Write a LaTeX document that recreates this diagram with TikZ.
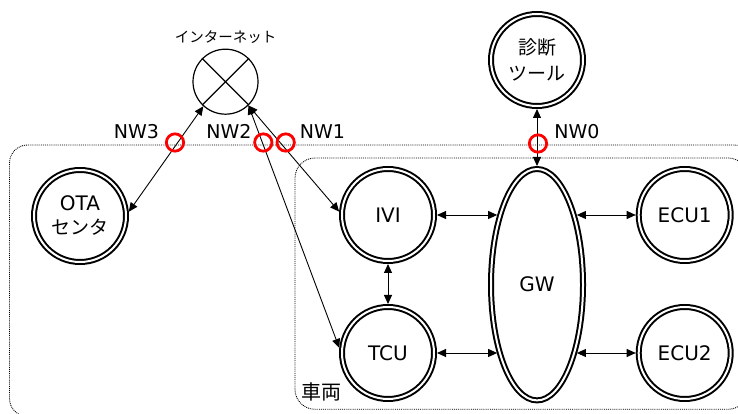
\documentclass[tikz,border=0pt]{standalone}
\usepackage{fontspec}
\setmainfont{DejaVu Sans}
\newfontfamily\jp{Noto Sans CJK JP}
\usetikzlibrary{shapes.geometric}
\usetikzlibrary{arrows.meta}
\usetikzlibrary{positioning}

\tikzset{
  unit/.style={circle, draw, double, line width=2pt, double distance=2pt,
    minimum size=92pt, inner sep=0pt, outer sep=3pt, align=center,
    font=\fontsize{20}{24}\selectfont},
  gateway/.style={ellipse, draw, double, line width=2pt, double distance=2pt,
    minimum width=92pt, minimum height=231.4pt, inner sep=0pt, outer sep=3pt,
    font=\fontsize{20}{24}\selectfont},
  cloud/.style={circle, draw, line width=1.2pt, minimum size=65pt, inner sep=0pt},
  nwmark/.style={circle, draw=red, line width=2.8pt, minimum size=17.3pt, inner sep=0pt},
  nwtext/.style={font=\fontsize{19}{22}\selectfont},
  area/.style={densely dotted, line width=0.9pt}
}

\begin{document}
\begin{tikzpicture}[<->,>={Triangle[length=9pt,width=8pt]},x=1pt,y=1pt,line width=0.9pt,node distance=138pt]
    \useasboundingbox (0,0) rectangle (738,414);
    \draw[-, area, rounded corners=18pt] (9.5,-2.5) rectangle (752,269);
    \draw[-, area, rounded corners=20pt] (295,4.7) rectangle (748,256);
    \node[font=\jp\fontsize{20}{24}\selectfont] (vehicle) at (321,22.3) {車両};

    \node[cloud] (inet) at (225.5,332.3) {};
    \draw[-, line width=1.2pt] (inet.north west) -- (inet.south east);
    \draw[-, line width=1.2pt] (inet.north east) -- (inet.south west);
    \node[font=\jp\fontsize{14.5}{17}\selectfont] (inettext) [above=1pt of inet] {インターネット};

    \node[unit] (ota) at (80,198) {OTA\\{\jp\fontsize{19}{24}\selectfont センタ}};
    \node[unit] (ivi) at (388,199) {IVI};
    \node[unit] (tcu) [below of=ivi] {TCU};
    \node[gateway] (gw) at (537,129.3) {GW};
    \node[unit] (ecu1) [right of=ivi, node distance=296.7pt] {ECU1};
    \node[unit] (ecu2) [below of=ecu1] {ECU2};
    \node[unit, font=\jp\fontsize{19}{26}\selectfont] (diag) at (537,354) {診断\\ツール};

    \draw (ota.5) -- (inet.228);
    \draw (inet.314) -- (tcu.174);
    \draw (inet.314) -- (ivi.176);
    \draw (ivi) -- (tcu);
    \draw (ivi.east) -- (ivi.east -| gw.120);
    \draw (tcu.east) -- (tcu.east -| gw.240);
    \draw (gw.60 |- ecu1.west) -- (ecu1.west);
    \draw (gw.300 |- ecu2.west) -- (ecu2.west);
    \draw (diag) -- (gw);

    \node[nwmark] (nw3) at (175,271.5) {};
    \node[nwmark] (nw2) at (263.3,271.5) {};
    \node[nwmark] (nw1) at (285.7,271.5) {};
    \node[nwmark] (nw0) at (538,270.5) {};
    \node[nwtext] (nw3t) at (136.5,282.3) {NW3};
    \node[nwtext] (nw2t) at (229,282.3) {NW2};
    \node[nwtext] (nw1t) at (322.5,282.3) {NW1};
    \node[nwtext] (nw0t) at (577,282.3) {NW0};
\end{tikzpicture}
\end{document}
